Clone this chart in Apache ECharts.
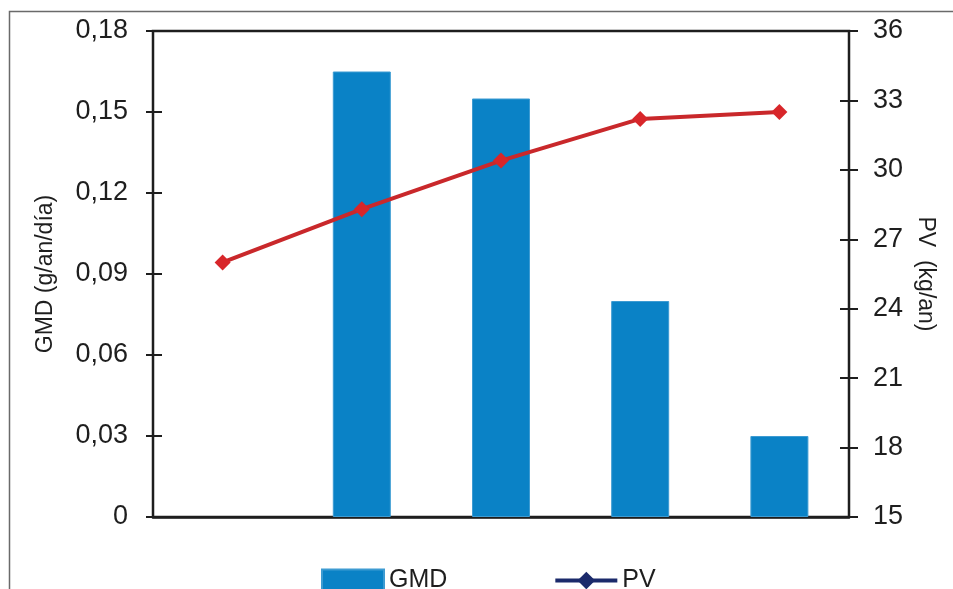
<!DOCTYPE html>
<html>
<head>
<meta charset="utf-8">
<script src="https://cdn.jsdelivr.net/npm/echarts@6/dist/echarts.min.js"></script>
<style>
html,body{margin:0;padding:0;background:#fff;}
#chart{width:953px;height:589px;}
</style>
</head>
<body>
<div id="chart"></div>
<script>
// ---- data ----
var categories = ['1', '2', '3', '4', '5'];
var gmdValues = [null, 0.165, 0.155, 0.08, 0.03];
var pvValues = [26.0, 28.3, 30.4, 32.2, 32.5];
var leftAxis = { min: 0, max: 0.18, interval: 0.03, title: 'GMD (g/an/día)' };
var rightAxis = { min: 15, max: 36, interval: 3, title: 'PV  (kg/an)' };
var seriesNames = ['GMD', 'PV'];

// ---- chart ----
var FONT = '"Liberation Sans", Arial, sans-serif';
var INK = '#1e1e1e';
var chart = echarts.init(document.getElementById('chart'), null, { renderer: 'canvas' });

function leftFmt(v) {
  if (Math.abs(v) < 1e-9) return '0';
  return v.toFixed(2).replace('.', ',');
}
function rightFmt(v) { return String(v); }

var axisLineStyle = { color: INK, width: 2.5 };

var option = {
  backgroundColor: '#ffffff',
  animation: false,
  grid: {
    left: 153, right: 104, top: 31, bottom: 72, containLabel: false,
    show: true, borderColor: INK, borderWidth: 2.5, backgroundColor: 'transparent'
  },
  graphic: [{
    type: 'rect', z: -10, silent: true,
    shape: { x: 9.5, y: 11.5, width: 980, height: 620 },
    style: { fill: 'none', stroke: '#6a6a6a', lineWidth: 1.5 }
  }],
  legend: {
    bottom: -9, left: 316,
    itemWidth: 62, itemHeight: 22, itemGap: 106,
    textStyle: { fontFamily: FONT, fontSize: 25, color: INK },
    data: [
      { name: seriesNames[0], icon: 'rect' },
      { name: seriesNames[1], itemStyle: { color: '#1b2a6b' }, lineStyle: { color: '#1b2a6b', width: 4 } }
    ]
  },
  xAxis: [
    { type: 'category', data: categories, position: 'bottom',
      axisLine: { show: true, lineStyle: axisLineStyle }, axisTick: { show: false }, axisLabel: { show: false } }
  ],
  yAxis: [
    {
      type: 'value', position: 'left', offset: 7,
      min: leftAxis.min, max: leftAxis.max, interval: leftAxis.interval,
      splitLine: { show: false },
      axisLine: { show: false },
      axisTick: { show: true, inside: true, length: 16, lineStyle: { color: INK, width: 2 } },
      axisLabel: { fontFamily: FONT, fontSize: 27, color: INK, margin: 18, formatter: leftFmt },
      name: leftAxis.title, nameLocation: 'middle', nameRotate: 90, nameGap: 89,
      nameTextStyle: { fontFamily: FONT, fontSize: 23, color: INK }
    },
    {
      type: 'value', position: 'right', offset: 9,
      min: rightAxis.min, max: rightAxis.max, interval: rightAxis.interval,
      splitLine: { show: false },
      axisLine: { show: false },
      axisTick: { show: true, inside: true, length: 18, lineStyle: { color: INK, width: 2 } },
      axisLabel: { fontFamily: FONT, fontSize: 27, color: INK, margin: 15, formatter: rightFmt },
      name: rightAxis.title, nameLocation: 'middle', nameRotate: -90, nameGap: 52,
      nameTextStyle: { fontFamily: FONT, fontSize: 23, color: INK }
    }
  ],
  series: [
    {
      name: seriesNames[0], type: 'bar', yAxisIndex: 0,
      data: gmdValues, barWidth: 58,
      itemStyle: { color: '#0a82c6', borderColor: '#3d9bd2', borderWidth: 1 }
    },
    {
      name: seriesNames[1], type: 'line', yAxisIndex: 1,
      data: pvValues, symbol: 'diamond', symbolSize: 16,
      lineStyle: { color: '#c9282b', width: 4 },
      itemStyle: { color: '#d8262a' }
    }
  ]
};
chart.setOption(option);
</script>
</body>
</html>
